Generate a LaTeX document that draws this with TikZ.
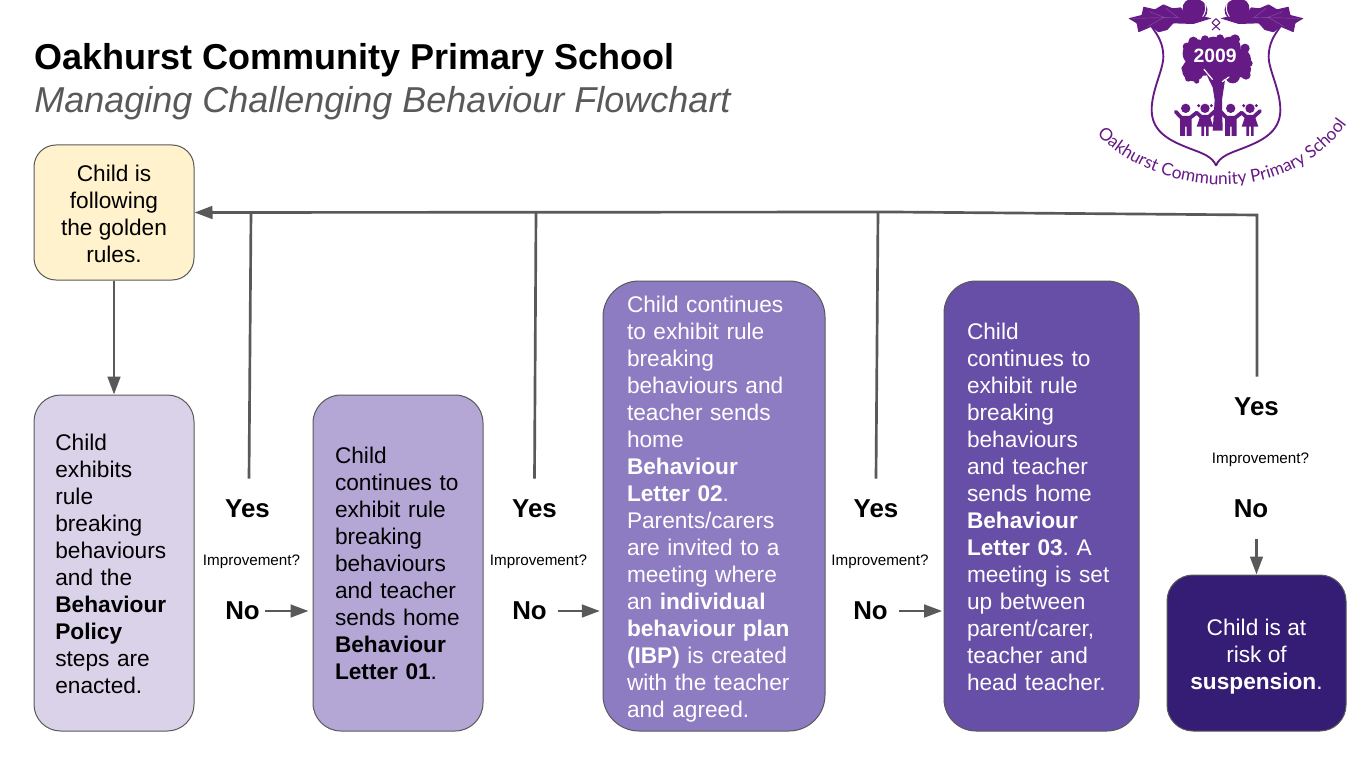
\documentclass[tikz,border=0pt]{standalone}
\usepackage{fontspec}
\setmainfont{Liberation Sans}
\newfontfamily\logofont{Lato}
\usetikzlibrary{arrows.meta,calc,decorations.text}
\definecolor{ink}{HTML}{000000}
\definecolor{subink}{HTML}{595959}
\definecolor{goldenfill}{HTML}{FFF2CC}
\definecolor{ruleone}{HTML}{D9D2E9}
\definecolor{ruletwo}{HTML}{B4A7D6}
\definecolor{rulethree}{HTML}{8E7CC3}
\definecolor{rulefour}{HTML}{674EA7}
\definecolor{rulefive}{HTML}{351C75}
\definecolor{oakpurple}{HTML}{661A85}
\newcommand{\toppad}[1]{\rule{0pt}{#1pt}}
\tikzset{
  flowbox/.style={draw=subink, fill=#1, line width=0.75pt, inner ysep=0pt, font=\fontsize{17}{20.25}\selectfont\frenchspacing},
  stepbox/.style 2 args={flowbox=#1, inner xsep=#2, align=left},
  answer/.style={font=\fontsize{19.4}{22}\bfseries, minimum height=45pt, inner ysep=0pt, inner xsep=3.5pt},
  question/.style={font=\fontsize{11.4}{13}\selectfont, inner sep=0pt},
  flowline/.style={draw=subink, line width=2pt},
  boyfig/.style={oakpurple, line width=2.8pt, line cap=round},
}
\begin{document}
\begin{tikzpicture}[x=0.75pt, y=-0.75pt, >={Triangle[length=13.5pt,width=9.5pt]}]
\useasboundingbox (0,0) rectangle (1365,767);
\fill[white] (0,0) rectangle (1365,767);
\node[anchor=base west, inner sep=0pt, font=\fontsize{27}{30}\bfseries] (titleMain) at (34,70) {Oakhurst Community Primary School};
\node[anchor=base west, inner sep=0pt, text=subink, font=\fontsize{27}{30}\itshape] (titleSub) at (34,113) {Managing Challenging Behaviour Flowchart};

\node[flowbox=goldenfill, align=center, minimum width=120pt, minimum height=101.25pt, rounded corners=16.5pt] (boxGolden) at (114,212.5)
  {\toppad{14}Child is\\following\\the golden\\rules.};
\node[stepbox={ruleone}{16pt}, text width=88pt, minimum height=252pt, rounded corners=20pt] (boxPolicy) at (114,563)
  {\toppad{14}Child\\exhibits\\rule\\breaking\\behaviours\\and the\\\textbf{Behaviour}\\\textbf{Policy}\\steps are\\enacted.};
\node[stepbox={ruletwo}{16.5pt}, text width=94.5pt, minimum height=252pt, rounded corners=21pt] (boxLetterA) at (398,563)
  {\toppad{13}Child\\continues to\\exhibit rule\\breaking\\behaviours\\and teacher\\sends home\\\textbf{Behaviour}\\\textbf{Letter 01}.};
\node[stepbox={rulethree}{18pt}, text=white, text width=130.5pt, minimum height=337.5pt, rounded corners=27pt] (boxLetterB) at (714,506)
  {\toppad{17}Child continues\\to exhibit rule\\breaking\\behaviours and\\teacher sends\\home\\\textbf{Behaviour}\\\textbf{Letter 02}.\\Parents/carers\\are invited to a\\meeting where\\an \textbf{individual}\\\textbf{behaviour plan}\\\textbf{(IBP)} is created\\with the teacher\\and agreed.};
\node[stepbox={rulefour}{17.25pt}, text=white, text width=111.75pt, minimum height=337.5pt, rounded corners=24pt] (boxLetterC) at (1041.5,506)
  {\toppad{14}Child\\continues to\\exhibit rule\\breaking\\behaviours\\and teacher\\sends home\\\textbf{Behaviour}\\\textbf{Letter 03}. A\\meeting is set\\up between\\parent/carer,\\teacher and\\head teacher.};
\node[flowbox=rulefive, text=white, align=center, minimum width=134.25pt, minimum height=117pt, rounded corners=19.5pt] (boxSuspend) at (1256.5,653)
  {\toppad{18.5}Child is at\\risk of\\\textbf{suspension}.};

\foreach \nm/\xa/\xb/\xq/\yy in {A/247.5/242.5/251.5/1, B/534.5/529.5/538.5/1, C/876/870.5/880/1, D/1256.5/1251/1260.5/0}{
  \ifnum\yy=0\relax
    \node[answer] (yes\nm) at (\xa,407) {Yes};
    \node[question] (ask\nm) at (\xq,460) {Improvement?};
    \node[answer] (no\nm) at (\xb,509) {No};
  \else
    \node[answer] (yes\nm) at (\xa,509) {Yes};
    \node[question] (ask\nm) at (\xq,562) {Improvement?};
    \node[answer] (no\nm) at (\xb,611) {No};
  \fi
}
\coordinate (joinA) at (251,212);
\coordinate (joinB) at (536,212);
\coordinate (joinC) at (878,212);
\coordinate (joinMid) at (893,212);
\coordinate (joinD) at (1257,215);
\draw[flowline, ->] (boxGolden) -- (boxPolicy);
\draw[flowline, ->] (yesD.north -| joinD) -- (joinD) -- (joinMid) -- (boxGolden.east);
\draw[flowline] ($(yesA.north)+(1.5,0)$) -- (joinA);
\draw[flowline] ($(yesB.north)+(0,0)$) -- (joinB);
\draw[flowline] ($(yesC.north)+(0,0)$) -- (joinC);
\draw[flowline, ->, shorten >=3pt] (noA.east) -- (noA.east -| boxLetterA.west);
\draw[flowline, ->, shorten <=4.5pt, shorten >=2pt] (noB.east) -- (noB.east -| boxLetterB.west);
\draw[flowline, ->, shorten <=4.5pt, shorten >=1pt] (noC.east) -- (noC.east -| boxLetterC.west);
\draw[flowline, ->] (noD.south -| boxSuspend.north) -- (boxSuspend.north);

\begin{scope}[shift={(810pt,0pt)}, x=0.25pt, y=-0.25pt]
  \clip (0,0) rectangle (855,600);
  \foreach \side in {1,-1}{
    \begin{scope}[shift={(408,0)}, xscale=\side]
      \fill[oakpurple, rounded corners=0.5pt] (-263,55) -- (-223,45) -- (-218,20) -- (-183,28) -- (-158,13) -- (-130,25) -- (-105,22) -- (-95,38) -- (-55,45) -- (-13,55) -- (-68,72) -- (-128,70) -- (-146,90) -- (-173,97) -- (-193,80) -- (-233,97) -- (-238,70) -- cycle;
      \fill[oakpurple, rotate around={-20:(-63,28)}] (-63,28) ellipse (38 and 32);
      \draw[white, line width=0.7pt] (-33,12) to[bend left=25] (-40,50);
      \draw[oakpurple!75!white, line width=0.3pt] (-250,55) -- (-110,52) (-200,35) -- (-150,54) (-205,80) -- (-160,54) (-150,25) -- (-115,52);
      \draw[oakpurple, line width=1.4pt] (-193,80) .. controls (-175,105) and (-158,130) .. (-158,170) .. controls (-158,210) and (-193,270) .. (-193,330) .. controls (-193,400) and (-130,425) .. (-80,445) .. controls (-40,460) and (-10,470) .. (0,497);
      \draw[oakpurple, line width=0.8pt] (-12,68) -- (12,90) (-12,68) -- (0,56);
    \end{scope}
  }
  \fill[oakpurple] (350,160) circle (42) (400,140) circle (30) (450,142) circle (32) (482,178) circle (31) (488,208) circle (25) (458,228) circle (22) (340,210) circle (34) (372,185) circle (42) (420,190) circle (50);
  \fill[oakpurple] (320,140) circle (12) (340,125) circle (15) (375,118) circle (12) (420,115) circle (12) (465,118) circle (15) (495,145) circle (14) (508,190) circle (10) (498,225) circle (14) (312,205) circle (8) (325,235) circle (10) (350,243) circle (8);
  \fill[oakpurple] (398,392) -- (404,300) -- (398,262) -- (380,225) -- (435,240) -- (426,300) -- (428,392) -- cycle;
  \draw[white, line width=0.9pt, line cap=round] (372,208) -- (397,238) (427,245) -- (447,231);
  \node[text=white, inner sep=0pt, font=\fontsize{14.5}{16}\bfseries] (logoYear) at (405,168) {2009};
  \foreach \cx in {317,452}{
    \fill[oakpurple] (\cx,325) circle (14);
    \fill[oakpurple] (\cx-17,348) rectangle (\cx+18,380) (\cx-17,378) rectangle (\cx-2,408) (\cx+3,378) rectangle (\cx+18,408);
    \draw[boyfig] (\cx-30,335) -- (\cx-14,352) (\cx+15,352) -- (\cx+33,338);
  }
  \foreach \cx in {375,510}{
    \fill[oakpurple] (\cx,325) circle (14) (\cx-19,317) circle (5) (\cx+19,317) circle (5);
    \fill[oakpurple] (\cx-13,345) -- (\cx+13,345) -- (\cx+25,380) -- (\cx-25,380) -- cycle;
    \fill[oakpurple] (\cx-11,378) rectangle (\cx-3,408) (\cx+3,378) rectangle (\cx+11,408);
    \draw[boyfig] (\cx-25,338) -- (\cx-11,351) (\cx+11,351) -- (\cx+30,333);
  }
  \path[decorate, decoration={text along path, text align=center, text={|\logofont\fontsize{13}{15}\selectfont\color{oakpurple}|Oakhurst Community Primary School}}] (42,392) .. controls (200,577) and (610,647) .. (808,362);
\end{scope}
\end{tikzpicture}
\end{document}
